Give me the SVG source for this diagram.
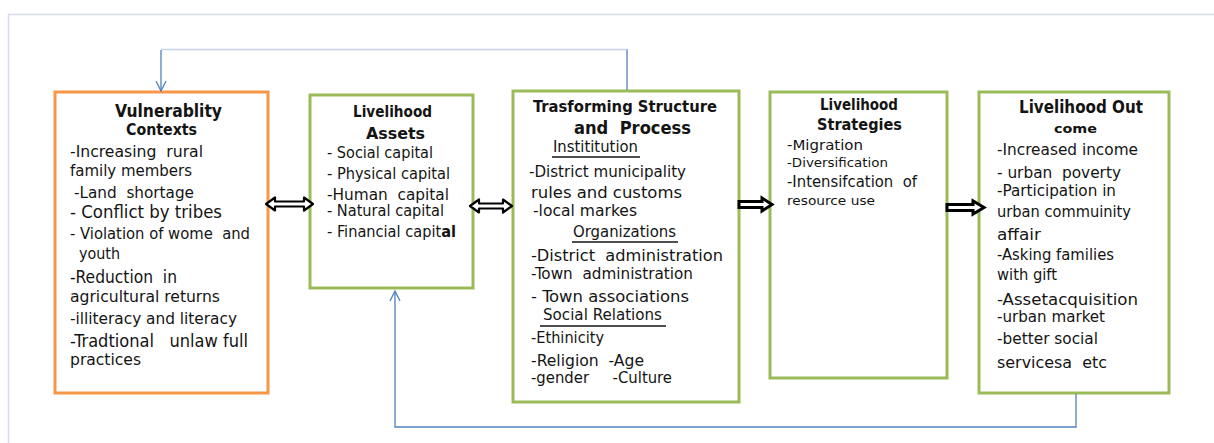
<svg xmlns="http://www.w3.org/2000/svg" width="1214" height="443" viewBox="0 0 1214 443">
  <defs>
    <style>
      .frame { fill: none; stroke: #d5ddeb; stroke-width: 1.5; }
      .box { fill: #ffffff; stroke-width: 3; }
      .orange { stroke: #f79646; }
      .green { stroke: #9bbb59; }
      text { font-family: "DejaVu Sans Condensed", "Roboto Condensed", "Liberation Sans Narrow", "Liberation Sans", sans-serif; fill: #141414; white-space: pre; }
      .b { font-weight: bold; }
      .ul { stroke: #141414; stroke-width: 1.5; }
      .link { fill: none; stroke: #4f81bd; stroke-width: 1.3; }
      .link-pale { fill: none; stroke: #c4d3ea; stroke-width: 1.3; }
      .dbl { fill: #ffffff; stroke: #000000; stroke-width: 2.2; stroke-linejoin: round; }
      .blk { fill: #ffffff; stroke: #000000; stroke-width: 3; stroke-linejoin: miter; }
    </style>
    <marker id="vhead" viewBox="0 0 12 12" refX="11" refY="6" markerWidth="12" markerHeight="12" markerUnits="userSpaceOnUse" orient="auto">
      <path d="M1,1 L11,6 L1,11" fill="none" stroke="#4f81bd" stroke-width="1.3"/>
    </marker>
  </defs>

  <rect width="1214" height="443" fill="#ffffff"/>
  <path class="frame" d="M8.5,443 V14.5 H1214"/>

  <!-- Vulnerability contexts -->
  <g id="vulnerability">
    <rect class="box orange" x="55" y="92" width="213" height="301"/>
    <text class="b" x="115" y="117" font-size="18" textLength="107" lengthAdjust="spacingAndGlyphs">Vulnerablity</text>
    <text class="b" x="126" y="135" font-size="16" textLength="71" lengthAdjust="spacingAndGlyphs">Contexts</text>
    <text x="70" y="157" font-size="16" textLength="133" lengthAdjust="spacingAndGlyphs">-Increasing  rural</text>
    <text x="70" y="176" font-size="16" textLength="122" lengthAdjust="spacingAndGlyphs">family members</text>
    <text x="74" y="198" font-size="16" textLength="120" lengthAdjust="spacingAndGlyphs">-Land  shortage</text>
    <text x="70" y="218" font-size="17" textLength="152" lengthAdjust="spacingAndGlyphs">- Conflict by tribes</text>
    <text x="70" y="239" font-size="16" textLength="180" lengthAdjust="spacingAndGlyphs">- Violation of wome  and</text>
    <text x="79" y="259" font-size="16" textLength="41" lengthAdjust="spacingAndGlyphs">youth</text>
    <text x="70" y="283" font-size="17" textLength="107" lengthAdjust="spacingAndGlyphs">-Reduction  in</text>
    <text x="70" y="302" font-size="16" textLength="150" lengthAdjust="spacingAndGlyphs">agricultural returns</text>
    <text x="70" y="324" font-size="16" textLength="167" lengthAdjust="spacingAndGlyphs">-illiteracy and literacy</text>
    <text x="70" y="347" font-size="17" textLength="178" lengthAdjust="spacingAndGlyphs">-Tradtional   unlaw full</text>
    <text x="70" y="365" font-size="16" textLength="71" lengthAdjust="spacingAndGlyphs">practices</text>
  </g>

  <!-- Livelihood assets -->
  <g id="assets">
    <rect class="box green" x="310" y="95" width="163" height="193"/>
    <text class="b" x="353" y="117" font-size="15" textLength="79" lengthAdjust="spacingAndGlyphs">Livelihood</text>
    <text class="b" x="366" y="139" font-size="16" textLength="59" lengthAdjust="spacingAndGlyphs">Assets</text>
    <text x="327" y="158" font-size="15" textLength="106" lengthAdjust="spacingAndGlyphs">- Social capital</text>
    <text x="327" y="179" font-size="15" textLength="123" lengthAdjust="spacingAndGlyphs">- Physical capital</text>
    <text x="327" y="200" font-size="16" textLength="122" lengthAdjust="spacingAndGlyphs">-Human  capital</text>
    <text x="327" y="216" font-size="15" textLength="117" lengthAdjust="spacingAndGlyphs">- Natural capital</text>
    <text x="327" y="237" font-size="15" textLength="129" lengthAdjust="spacingAndGlyphs">- Financial capit<tspan class="b">al</tspan></text>
  </g>

  <!-- Transforming structure and process -->
  <g id="transforming">
    <rect class="box green" x="513" y="91" width="226" height="311"/>
    <text class="b" x="533" y="112" font-size="15" textLength="184" lengthAdjust="spacingAndGlyphs">Trasforming Structure</text>
    <text class="b" x="574" y="134" font-size="17" textLength="117" lengthAdjust="spacingAndGlyphs">and  Process</text>
    <text x="553" y="152" font-size="15" textLength="85" lengthAdjust="spacingAndGlyphs">Instititution</text>
    <line class="ul" x1="552" y1="157" x2="640" y2="157"/>
    <text x="529" y="177" font-size="16" textLength="157" lengthAdjust="spacingAndGlyphs">-District municipality</text>
    <text x="531" y="198" font-size="16" textLength="151" lengthAdjust="spacingAndGlyphs">rules and customs</text>
    <text x="533" y="216" font-size="15" textLength="104" lengthAdjust="spacingAndGlyphs">-local markes</text>
    <text x="573" y="237" font-size="15" textLength="103" lengthAdjust="spacingAndGlyphs">Organizations</text>
    <line class="ul" x1="572" y1="242" x2="678" y2="242"/>
    <text x="531" y="261" font-size="16" textLength="192" lengthAdjust="spacingAndGlyphs">-District  administration</text>
    <text x="531" y="279" font-size="15" textLength="162" lengthAdjust="spacingAndGlyphs">-Town  administration</text>
    <text x="531" y="302" font-size="16" textLength="158" lengthAdjust="spacingAndGlyphs">- Town associations</text>
    <text x="543" y="320" font-size="15" textLength="119" lengthAdjust="spacingAndGlyphs">Social Relations</text>
    <line class="ul" x1="540" y1="326" x2="666" y2="326"/>
    <text x="531" y="343" font-size="15" textLength="73" lengthAdjust="spacingAndGlyphs">-Ethinicity</text>
    <text x="531" y="366" font-size="16" textLength="113" lengthAdjust="spacingAndGlyphs">-Religion  -Age</text>
    <text x="531" y="383" font-size="15" textLength="141" lengthAdjust="spacingAndGlyphs">-gender     -Culture</text>
  </g>

  <!-- Livelihood strategies -->
  <g id="strategies">
    <rect class="box green" x="770" y="92" width="177" height="286"/>
    <text class="b" x="820" y="110" font-size="15" textLength="78" lengthAdjust="spacingAndGlyphs">Livelihood</text>
    <text class="b" x="817" y="130" font-size="15" textLength="85" lengthAdjust="spacingAndGlyphs">Strategies</text>
    <text x="787" y="150" font-size="14" textLength="76" lengthAdjust="spacingAndGlyphs">-Migration</text>
    <text x="787" y="167" font-size="12.5" textLength="101" lengthAdjust="spacingAndGlyphs">-Diversification</text>
    <text x="787" y="187" font-size="15" textLength="130" lengthAdjust="spacingAndGlyphs">-Intensifcation  of</text>
    <text x="787" y="205" font-size="12" textLength="88" lengthAdjust="spacingAndGlyphs">resource use</text>
  </g>

  <!-- Livelihood outcomes -->
  <g id="outcomes">
    <rect class="box green" x="979" y="92" width="190" height="301"/>
    <text class="b" x="1019" y="113" font-size="17" textLength="124" lengthAdjust="spacingAndGlyphs">Livelihood Out</text>
    <text class="b" x="1054" y="133" font-size="13" textLength="43" lengthAdjust="spacingAndGlyphs">come</text>
    <text x="997" y="155" font-size="16" textLength="141" lengthAdjust="spacingAndGlyphs">-Increased income</text>
    <text x="997" y="178" font-size="16" textLength="124" lengthAdjust="spacingAndGlyphs">- urban  poverty</text>
    <text x="997" y="196" font-size="15" textLength="119" lengthAdjust="spacingAndGlyphs">-Participation in</text>
    <text x="997" y="217" font-size="15" textLength="134" lengthAdjust="spacingAndGlyphs">urban commuinity</text>
    <text x="997" y="240" font-size="16" textLength="44" lengthAdjust="spacingAndGlyphs">affair</text>
    <text x="997" y="260" font-size="15" textLength="117" lengthAdjust="spacingAndGlyphs">-Asking families</text>
    <text x="997" y="280" font-size="15" textLength="60" lengthAdjust="spacingAndGlyphs">with gift</text>
    <text x="997" y="305" font-size="16" textLength="141" lengthAdjust="spacingAndGlyphs">-Assetacquisition</text>
    <text x="997" y="322" font-size="15" textLength="108" lengthAdjust="spacingAndGlyphs">-urban market</text>
    <text x="997" y="344" font-size="15" textLength="101" lengthAdjust="spacingAndGlyphs">-better social</text>
    <text x="997" y="368" font-size="15" textLength="110" lengthAdjust="spacingAndGlyphs">servicesa  etc</text>
  </g>

  <!-- Connectors: feedback loops and flow arrows -->
  <g id="connectors">
    <path class="link" d="M627,90 V49"/>
    <path class="link-pale" d="M627,49.5 H161"/>
    <path class="link" d="M161,50 V91" marker-end="url(#vhead)"/>

    <path class="link" d="M1076,394 V427 H395 V291" marker-end="url(#vhead)"/>

    <polygon class="dbl" points="266,204 275,197.5 275,201.5 304,201.5 304,197.5 313,204 304,210.5 304,206.5 275,206.5 275,210.5"/>
    <polygon class="dbl" points="470,206 479,199.5 479,203.5 503,203.5 503,199.5 512,206 503,212.5 503,208.5 479,208.5 479,212.5"/>
    <polygon class="blk" points="739,201.5 762,201.5 762,198 772,204.5 762,211 762,207.5 739,207.5"/>
    <polygon class="blk" points="947,204.5 973,204.5 973,201 984,207.5 973,214 973,210.5 947,210.5"/>
  </g>
</svg>
